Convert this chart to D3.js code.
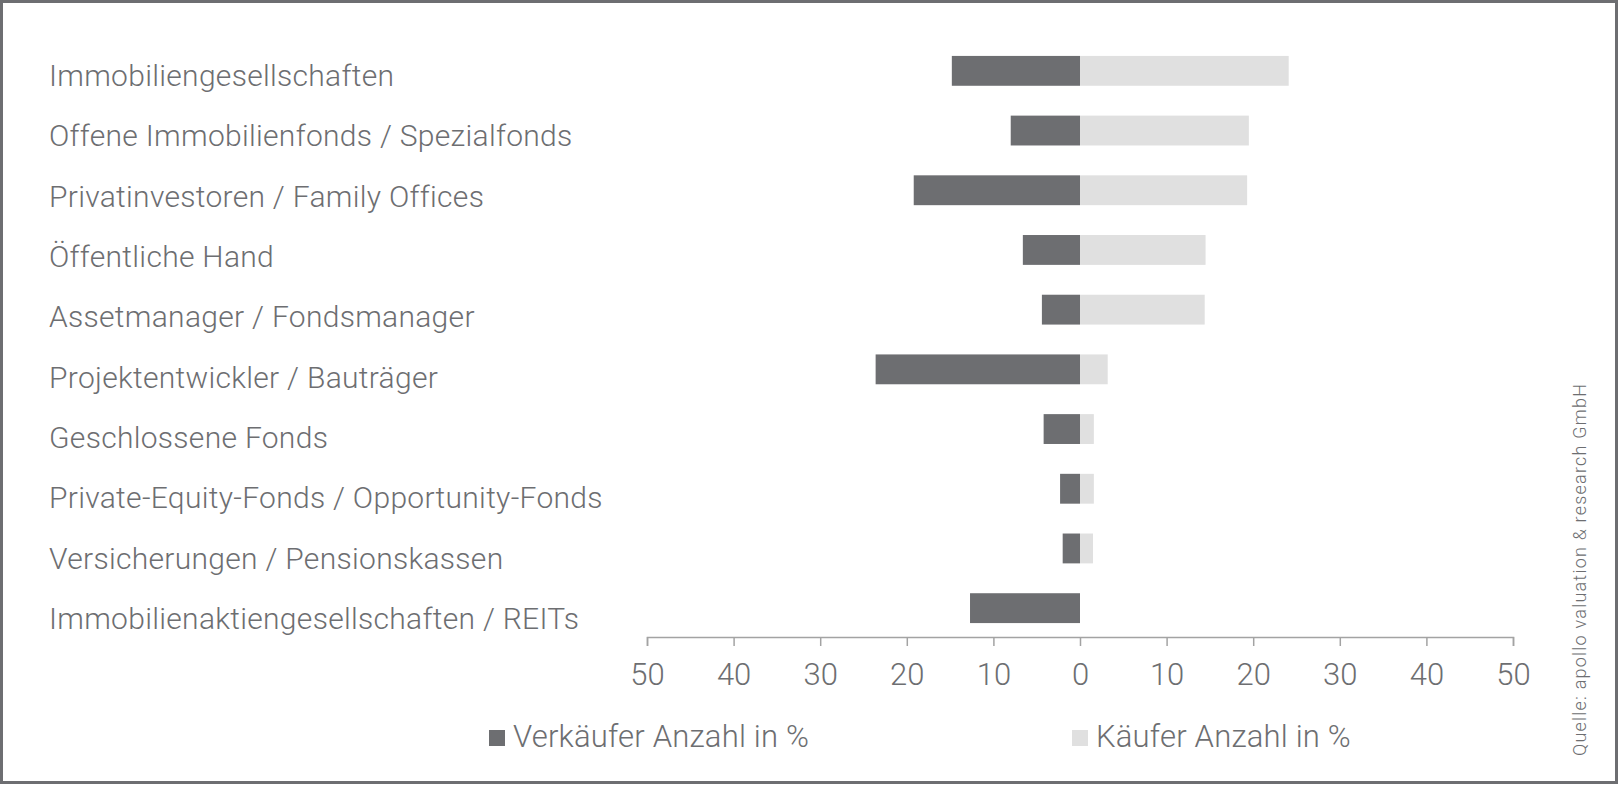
<!DOCTYPE html>
<html lang="de">
<head>
    <meta charset="UTF-8">
    <title>Verkäufer / Käufer nach Investorengruppe</title>
    <script src="https://d3js.org/d3.v7.min.js"></script>
    <style>
        body { margin: 0; background: #fff; }
        text { font-family: Roboto, "Liberation Sans", sans-serif; font-weight: 300; fill: #6d6e71; }
    </style>
</head>
<body>

<div id="chart"></div>

<script>
    // data (share in %)
    var categories = [
        "Immobiliengesellschaften",
        "Offene Immobilienfonds / Spezialfonds",
        "Privatinvestoren / Family Offices",
        "Öffentliche Hand",
        "Assetmanager / Fondsmanager",
        "Projektentwickler / Bauträger",
        "Geschlossene Fonds",
        "Private-Equity-Fonds / Opportunity-Fonds",
        "Versicherungen / Pensionskassen",
        "Immobilienaktiengesellschaften / REITs"
    ];
    var verkaeufer = [14.8, 8.0, 19.2, 6.6, 4.4, 23.6, 4.2, 2.3, 2.0, 12.7];
    var kaeufer = [24.1, 19.5, 19.3, 14.5, 14.4, 3.2, 1.6, 1.6, 1.5, 0];
    var tickValues = [-50, -40, -30, -20, -10, 0, 10, 20, 30, 40, 50];
    var seriesNames = ["Verkäufer Anzahl in %", "Käufer Anzahl in %"];
    var seriesColors = ["#6d6e71", "#e0e0e0"];
    var source = "Quelle: apollo valuation & research GmbH";

    var width = 1620, height = 790;

    var svg = d3.select("#chart")
        .append("svg")
        .attr("width", width)
        .attr("height", height);

    // frame
    svg.append("rect")
        .attr("x", 1.5).attr("y", 1.5)
        .attr("width", 1615).attr("height", 781)
        .attr("fill", "#fff")
        .attr("stroke", "#6d6e71")
        .attr("stroke-width", 3);

    var x = d3.scaleLinear()
        .domain([-50, 50])
        .range([647, 1513]);

    var y = d3.scaleBand()
        .domain(categories)
        .range([41, 638])
        .paddingInner(0.5)
        .paddingOuter(0.25);

    // label baselines drift slightly from bar centres in the original
    var labelY = d3.scalePoint()
        .domain(categories)
        .range([86, 629]);

    // category labels
    svg.append("g")
        .selectAll("text")
        .data(categories)
        .enter()
        .append("text")
        .attr("x", 49)
        .attr("y", function (d) { return labelY(d); })
        .style("font-size", "30px")
        .style("letter-spacing", "0.3px")
        .text(function (d) { return d; });

    // Verkäufer bars (negative side)
    svg.append("g")
        .selectAll("rect")
        .data(categories)
        .enter()
        .append("rect")
        .attr("x", function (d, i) { return x(-verkaeufer[i]); })
        .attr("y", function (d) { return y(d); })
        .attr("width", function (d, i) { return x(0) - x(-verkaeufer[i]); })
        .attr("height", y.bandwidth())
        .attr("fill", seriesColors[0]);

    // Käufer bars
    svg.append("g")
        .selectAll("rect")
        .data(categories)
        .enter()
        .append("rect")
        .attr("x", x(0))
        .attr("y", function (d) { return y(d); })
        .attr("width", function (d, i) { return x(kaeufer[i]) - x(0); })
        .attr("height", y.bandwidth())
        .attr("fill", seriesColors[1]);

    // X axis
    var axis = svg.append("g")
        .attr("transform", "translate(0,637)")
        .call(d3.axisBottom(x)
            .tickValues(tickValues)
            .tickSize(9)
            .tickFormat(function (d) { return Math.abs(d); }));
    axis.select(".domain").attr("stroke", "#a3a3a3").attr("stroke-width", 1.5);
    axis.selectAll(".tick line").attr("stroke", "#a3a3a3").attr("stroke-width", 1.5);
    axis.selectAll(".tick text")
        .attr("y", 48)
        .attr("dy", 0)
        .style("font-size", "31px")
        .style("font-family", "Roboto, 'Liberation Sans', sans-serif")
        .style("font-weight", 300)
        .attr("fill", "#6d6e71");

    // legend
    var legendX = [489, 1072];
    var legend = svg.append("g")
        .selectAll("g")
        .data(seriesNames)
        .enter()
        .append("g")
        .attr("transform", function (d, i) { return "translate(" + legendX[i] + ",0)"; });
    legend.append("rect")
        .attr("x", 0).attr("y", 730)
        .attr("width", 16).attr("height", 16)
        .attr("fill", function (d, i) { return seriesColors[i]; });
    legend.append("text")
        .attr("x", 24)
        .attr("y", 747)
        .style("font-size", "31px")
        .style("letter-spacing", "0.2px")
        .text(function (d) { return d; });

    // source, rotated
    svg.append("text")
        .attr("transform", "translate(1586,756) rotate(-90)")
        .attr("textLength", 372)
        .attr("lengthAdjust", "spacing")
        .style("font-size", "18px")
        .text(source);
</script>

</body>
</html>
